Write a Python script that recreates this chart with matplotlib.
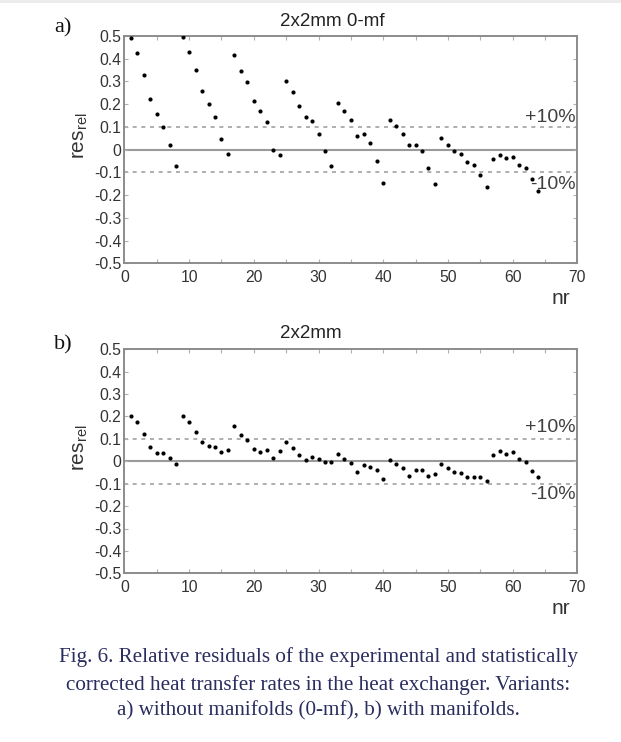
import matplotlib
matplotlib.use("Agg")
import matplotlib.pyplot as plt
from matplotlib.patches import Rectangle

plt.rcParams['font.family'] = ['Liberation Sans', 'DejaVu Sans']
plt.rcParams['mathtext.fontset'] = 'custom'
plt.rcParams['mathtext.rm'] = 'Liberation Sans'
plt.rcParams['mathtext.it'] = 'Liberation Sans'

# ---- data ----
nr = list(range(1, 65))
res_a = [0.49, 0.425, 0.33, 0.225, 0.155, 0.10, 0.022, -0.07,
         0.494, 0.43, 0.35, 0.26, 0.20, 0.143, 0.045, -0.018,
         0.416, 0.345, 0.297, 0.215, 0.17, 0.122, 0.0, -0.023,
         0.30, 0.253, 0.19, 0.143, 0.124, 0.07, -0.007, -0.07,
         0.204, 0.168, 0.13, 0.062, 0.07, 0.028, -0.05, -0.146,
         0.13, 0.103, 0.07, 0.019, 0.019, -0.007, -0.08, -0.15,
         0.05, 0.022, -0.007, -0.02, -0.055, -0.068, -0.11, -0.165,
         -0.04, -0.024, -0.035, -0.031, -0.066, -0.08, -0.13, -0.18]
res_b = [0.203, 0.175, 0.121, 0.064, 0.037, 0.037, 0.015, -0.012,
         0.203, 0.175, 0.129, 0.084, 0.067, 0.062, 0.04, 0.052,
         0.157, 0.119, 0.096, 0.055, 0.041, 0.049, 0.016, 0.047,
         0.086, 0.059, 0.027, 0.004, 0.018, 0.01, -0.004, -0.003,
         0.031, 0.01, -0.009, -0.047, -0.016, -0.024, -0.041, -0.08,
         0.004, -0.012, -0.031, -0.064, -0.041, -0.039, -0.064, -0.058,
         -0.012, -0.031, -0.05, -0.053, -0.071, -0.068, -0.068, -0.086,
         0.027, 0.044, 0.031, 0.04, 0.009, -0.003, -0.043, -0.068]
titles = ["2x2mm 0-mf", "2x2mm"]
panel_labels = ["a)", "b)"]
ytick_vals = [-0.5, -0.4, -0.3, -0.2, -0.1, 0, 0.1, 0.2, 0.3, 0.4, 0.5]
ytick_labels = ["-0.5", "-0.4", "-0.3", "-0.2", "-0.1", "0", "0.1", "0.2", "0.3", "0.4", "0.5"]
xtick_vals = [0, 10, 20, 30, 40, 50, 60, 70]
xminor_vals = [5, 15, 25, 35, 45, 55, 65]
band = 0.1
caption = ["Fig. 6. Relative residuals of the experimental and statistically",
           "corrected heat transfer rates in the heat exchanger. Variants:",
           "a) without manifolds (0-mf), b) with manifolds."]

W, H = 621, 742
fig = plt.figure(figsize=(W / 100, H / 100), dpi=100)
fig.patch.set_facecolor('white')
fig.patches.append(Rectangle((0, 1 - 3 / H), 1, 3 / H, transform=fig.transFigure,
                             facecolor='#ececec', edgecolor='none'))

spine_c = '#8c8c8c'
text_c = '#333333'
left, right = 124.4, 577.3
panels = [(36.0, 263.3), (349.3, 573.3)]
data = [res_a, res_b]

for i, (top, bot) in enumerate(panels):
    ax = fig.add_axes([left / W, 1 - bot / H, (right - left) / W, (bot - top) / H])
    ax.set_xlim(0, 70)
    ax.set_ylim(-0.5, 0.5)
    ax.axhline(0, color='#9a9a9a', lw=1.5, zorder=1)
    for s in (band, -band):
        ax.axhline(s, color='#a8a8a8', lw=1.3, ls=(0, (2.2, 2.6)), zorder=1)
    ax.plot(nr, data[i], 'o', color='black', ms=3.0, mec='black', mew=0, zorder=3)
    for sp in ax.spines.values():
        sp.set_color(spine_c)
        sp.set_linewidth(1.4)
    ax.set_yticks(ytick_vals)
    ax.set_yticklabels(ytick_labels)
    ax.set_xticks(xtick_vals)
    ax.set_xticklabels([str(v) for v in xtick_vals])
    ax.set_xticks(xminor_vals, minor=True)
    ax.tick_params(which='both', direction='in', length=3, width=0.8, color='#b0b0b0',
                   top=True, right=True, labelsize=11.3, labelcolor=text_c, pad=2)
    ax.tick_params(axis='x', pad=5)
    # annotations
    ax.text(69.8, 0.142 if i == 0 else 0.15, "+10%", ha='right', va='center',
            fontsize=14, color='#404040')
    ax.text(69.8, -0.153 if i == 0 else -0.149, "-10%", ha='right', va='center',
            fontsize=14, color='#404040')
    # title
    fig.text(280 / W, 1 - (21.5 if i == 0 else 334) / H, titles[i], ha='left', va='center',
             fontsize=13.5, color='#222222')
    # panel letter
    fig.text(63 / W, 1 - (28 if i == 0 else 345) / H, panel_labels[i], ha='center', va='center',
             fontsize=16, family=['Liberation Serif'], color='#111111')
    # y label
    yc = (top + bot) / 2 - 14
    fig.text(80 / W, 1 - yc / H, r'res$_{\mathrm{rel}}$', rotation=90, ha='center', va='center',
             fontsize=15, color='#333333')
    # x label
    fig.text(561 / W, 1 - (298 if i == 0 else 609) / H, "nr", ha='center', va='center',
             fontsize=15, color='#333333')

cap_y = [657, 685, 711]
for line, y in zip(caption, cap_y):
    fig.text(318 / W, 1 - y / H, line, ha='center', va='center', fontsize=15.2,
             family=['Liberation Serif'], color='#2a2d5e')

fig.savefig("out.png", dpi=100)
